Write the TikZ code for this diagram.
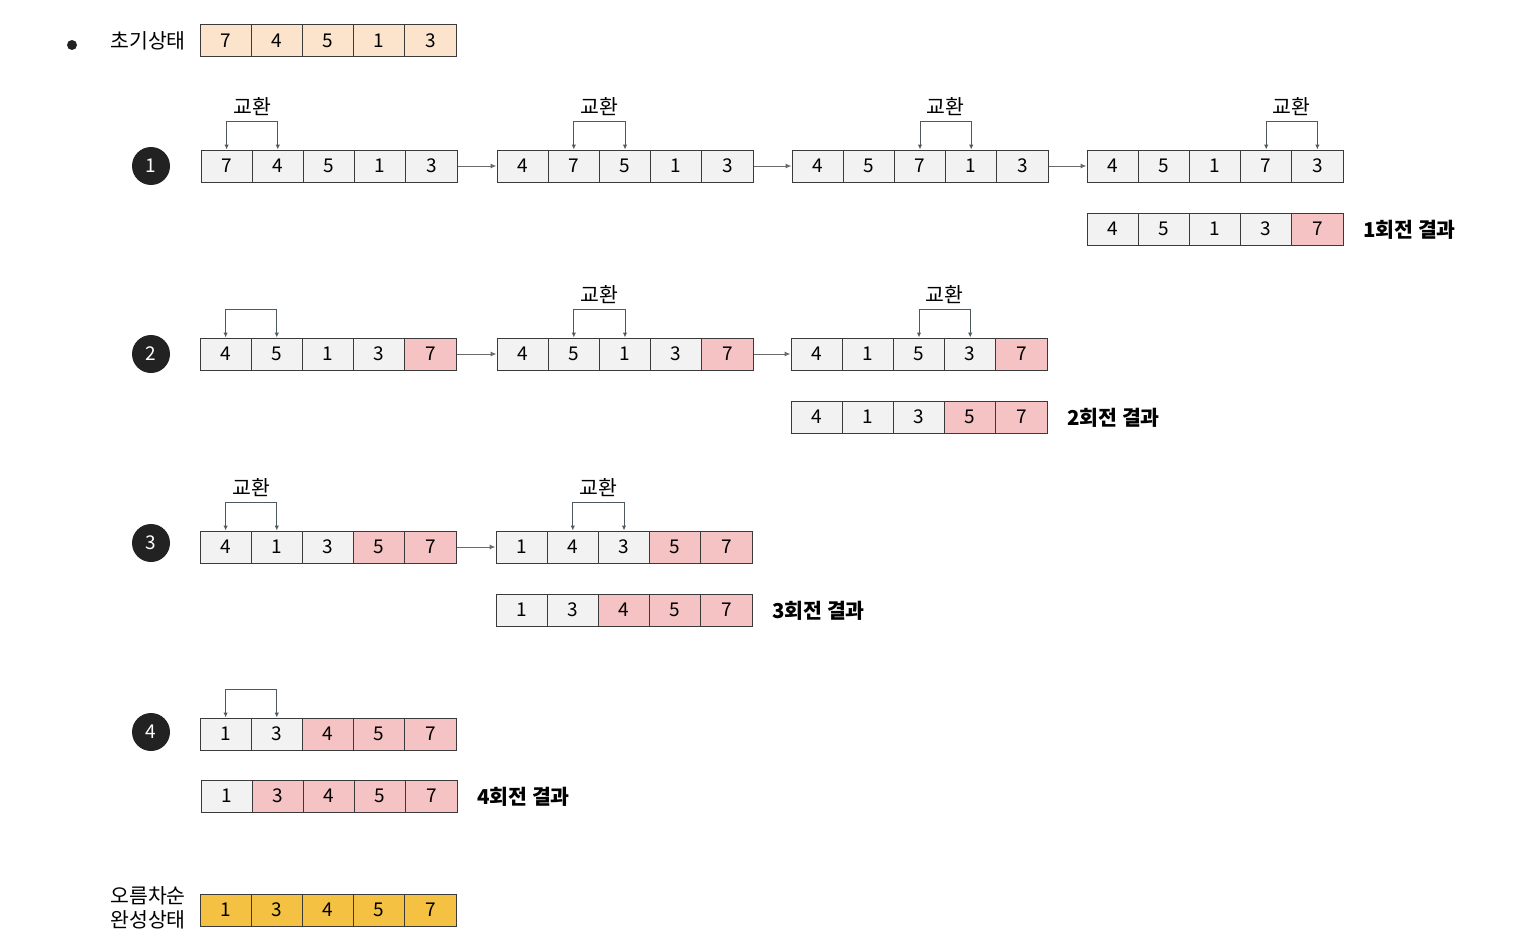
\documentclass[tikz,border=0pt]{standalone}
\usepackage{fontspec}
\setmainfont{Noto Sans CJK KR}
\usetikzlibrary{arrows.meta,calc}
\definecolor{cg}{HTML}{F2F2F2}
\definecolor{cp}{HTML}{F5C3C3}
\definecolor{co}{HTML}{FCE4CC}
\definecolor{cy}{HTML}{F5C142}
\definecolor{edge}{HTML}{3A3A3A}
\definecolor{swapc}{HTML}{4D5B61}
\definecolor{flowc}{HTML}{6A6A6A}
\definecolor{dark}{HTML}{222222}
\newcommand\arrrow[4]{%
  \foreach \v/\c [count=\i] in {#4} {
    \node[cellbox,fill=\c] (#1-\i) at ({#2+(\i-0.5)*51.2},#3) {\v};
  }}
\newcommand\swapbr[3]{%
  \draw[swaparr] (#1.north) -- ([yshift=28pt]#1.north) -| (#2.north);}
\newcommand\swaplbl[3]{%
  \swapbr{#1}{#2}{}
  \node[lbl] (#3) at ([yshift=43pt]$(#1.north)!0.5!(#2.north)$) {교환};}
\begin{document}
\begin{tikzpicture}[x=1pt,y=-1pt,
  cellbox/.style={draw=edge,line width=1pt,minimum width=51.2pt,minimum height=32pt,inner sep=0pt,font=\fontsize{19}{22}\selectfont},
  swaparr/.style={draw=swapc,line width=1pt,{Latex[length=5pt,width=4.5pt]}-{Latex[length=5pt,width=4.5pt]}},
  flow/.style={draw=flowc,line width=1pt,-{Latex[length=6pt,width=5pt]}},
  lbl/.style={font=\fontsize{20.5}{24}\selectfont,inner sep=0pt},
  res/.style={font=\bfseries\fontsize{20.5}{24}\selectfont,inner sep=0pt,anchor=west},
  stepnum/.style={circle,fill=dark,text=white,minimum size=38pt,inner sep=0pt,font=\fontsize{19}{22}\selectfont}]
\useasboundingbox (0,0) rectangle (1518,950);
% initial
\fill[dark] (72,45) circle (5pt);
\node[lbl,anchor=east] (init) at (186,41) {초기상태};
\arrrow{i0}{200}{41}{7/co,4/co,5/co,1/co,3/co}
% row 1
\node[stepnum] (n1) at (151,166) {1};
\arrrow{a1}{201}{166}{7/cg,4/cg,5/cg,1/cg,3/cg}
\arrrow{b1}{497}{166}{4/cg,7/cg,5/cg,1/cg,3/cg}
\arrrow{c1}{792}{166}{4/cg,5/cg,7/cg,1/cg,3/cg}
\arrrow{d1}{1087}{166}{4/cg,5/cg,1/cg,7/cg,3/cg}
\swaplbl{a1-1}{a1-2}{s1a}
\swaplbl{b1-2}{b1-3}{s1b}
\swaplbl{c1-3}{c1-4}{s1c}
\swaplbl{d1-4}{d1-5}{s1d}
\draw[flow] (a1-5.east) -- (b1-1.west);
\draw[flow] (b1-5.east) -- (c1-1.west);
\draw[flow] (c1-5.east) -- (d1-1.west);
\arrrow{r1}{1087}{229}{4/cg,5/cg,1/cg,3/cg,7/cp}
\node[res] (t1) at (1363,230) {1회전 결과};
% row 2
\node[stepnum] (n2) at (151,354) {2};
\arrrow{a2}{200}{354}{4/cg,5/cg,1/cg,3/cg,7/cp}
\arrrow{b2}{497}{354}{4/cg,5/cg,1/cg,3/cg,7/cp}
\arrrow{c2}{791}{354}{4/cg,1/cg,5/cg,3/cg,7/cp}
\swapbr{a2-1}{a2-2}{}
\swaplbl{b2-2}{b2-3}{s2b}
\swaplbl{c2-3}{c2-4}{s2c}
\draw[flow] (a2-5.east) -- (b2-1.west);
\draw[flow] (b2-5.east) -- (c2-1.west);
\arrrow{r2}{791}{417}{4/cg,1/cg,3/cg,5/cp,7/cp}
\node[res] (t2) at (1067,418) {2회전 결과};
% row 3
\node[stepnum] (n3) at (151,543) {3};
\arrrow{a3}{200}{547}{4/cg,1/cg,3/cg,5/cp,7/cp}
\arrrow{b3}{496}{547}{1/cg,4/cg,3/cg,5/cp,7/cp}
\swaplbl{a3-1}{a3-2}{s3a}
\swaplbl{b3-2}{b3-3}{s3b}
\draw[flow] (a3-5.east) -- (b3-1.west);
\arrrow{r3}{496}{610}{1/cg,3/cg,4/cp,5/cp,7/cp}
\node[res] (t3) at (772,611) {3회전 결과};
% row 4
\node[stepnum] (n4) at (151,732) {4};
\arrrow{a4}{200}{734}{1/cg,3/cg,4/cp,5/cp,7/cp}
\swapbr{a4-1}{a4-2}{}
\arrrow{r4}{201}{796}{1/cg,3/cp,4/cp,5/cp,7/cp}
\node[res] (t4) at (477,797) {4회전 결과};
% final
\node[lbl,anchor=east,align=center] (fin) at (186,908) {오름차순\\완성상태};
\arrrow{f}{200}{910}{1/cy,3/cy,4/cy,5/cy,7/cy}
\end{tikzpicture}
\end{document}
